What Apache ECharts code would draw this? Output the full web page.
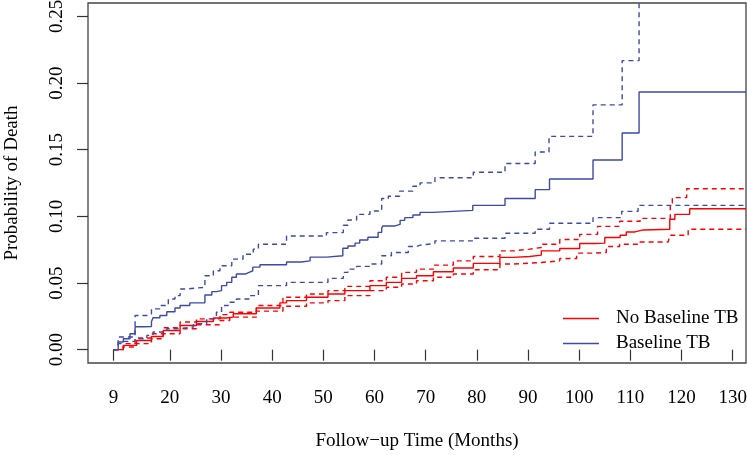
<!DOCTYPE html>
<html>
<head>
<meta charset="utf-8">
<script src="https://cdn.jsdelivr.net/npm/echarts@6/dist/echarts.min.js"></script>
<style>html,body{margin:0;padding:0;background:#fff}#c{width:747px;height:455px}</style>
</head>
<body>
<div id="c"></div>
<script>
// Tick labels
const xTicks = [9, 20, 30, 40, 50, 60, 70, 80, 90, 100, 110, 120, 130];
const yTicks = [0, 0.05, 0.10, 0.15, 0.20, 0.25];

// No Baseline TB (red): estimate and 95% CI
const redEstT = [9, 10.9, 13.5, 16.4, 18.7, 22.0, 25.2, 28.5, 31.1, 32.4, 36.9, 41.5, 42.8, 46.7, 50.9, 54.2, 59.1, 62.3, 65.3, 68.2, 71.5, 75.4, 79.3, 84.5, 87.1, 90.3, 92.6, 96.2, 100.1, 103.0, 105.0, 108.0, 109.2, 110.9, 112.5, 117.7, 118.7, 121.6, 132.6];
const redEstY = [0, 0.0032, 0.0069, 0.0099, 0.0144, 0.0181, 0.0211, 0.0237, 0.0244, 0.0269, 0.0313, 0.0351, 0.0368, 0.0393, 0.0418, 0.0443, 0.048, 0.0505, 0.0535, 0.0554, 0.0584, 0.0612, 0.0647, 0.0692, 0.0699, 0.0709, 0.0741, 0.0759, 0.0796, 0.0799, 0.0841, 0.0858, 0.0883, 0.0898, 0.0903, 0.0978, 0.1015, 0.1057, 0.1057];
const redUpT = [9, 10.9, 13.2, 16.4, 18.7, 22.0, 25.2, 29.8, 31.7, 36.9, 42.1, 46.7, 50.9, 54.2, 59.1, 62.3, 65.3, 68.2, 71.5, 75.4, 79.3, 84.5, 87.1, 90.3, 92.6, 96.2, 100.1, 103.6, 107.9, 111.9, 117.8, 118.2, 121.0, 132.6];
const redUpY = [0, 0.0045, 0.0087, 0.0119, 0.0164, 0.0207, 0.0231, 0.0263, 0.0281, 0.0331, 0.0393, 0.0418, 0.0443, 0.0475, 0.0517, 0.0543, 0.058, 0.0604, 0.0634, 0.0666, 0.0699, 0.0741, 0.0754, 0.0766, 0.0791, 0.0826, 0.0865, 0.0925, 0.0963, 0.0985, 0.110, 0.114, 0.1207, 0.1207];
const redLoT = [9, 10.9, 13.2, 16.4, 18.7, 22.0, 25.2, 29.8, 31.7, 36.9, 42.1, 46.7, 50.9, 54.2, 59.1, 62.3, 65.3, 68.2, 71.5, 75.4, 79.3, 84.5, 87.1, 90.3, 92.6, 96.2, 99.5, 103.0, 105.3, 107.9, 111.8, 117.4, 117.7, 121.3, 132.6];
const redLoY = [0, 0.002, 0.0045, 0.0082, 0.0119, 0.0157, 0.0187, 0.0219, 0.0244, 0.0289, 0.0326, 0.0351, 0.0368, 0.0405, 0.0443, 0.0468, 0.0493, 0.0517, 0.0543, 0.0567, 0.0599, 0.0642, 0.0649, 0.0654, 0.0666, 0.0684, 0.0724, 0.0729, 0.0774, 0.0791, 0.0808, 0.0823, 0.0858, 0.0903, 0.0903];

// Baseline TB (blue): estimate and 95% CI
const blueEstT = [9, 9.9, 10.9, 12.2, 13.2, 14.8, 16.4, 16.7, 18.05, 19.4, 21.0, 22.0, 23.9, 26.85, 28.2, 29.1, 30.1, 31.1, 32.1, 33.0, 34.7, 35.6, 36.2, 37.6, 42.8, 45.7, 47.4, 50.6, 53.8, 54.8, 56.2, 57.1, 58.7, 60.7, 61.4, 61.6, 64.0, 65.0, 65.9, 67.5, 68.9, 71.4, 79.2, 85.5, 91.4, 94.2, 102.7, 108.4, 111.7, 132.6];
const blueEstY = [0, 0.0057, 0.0082, 0.0119, 0.0172, 0.0174, 0.0209, 0.0239, 0.0256, 0.0284, 0.0313, 0.0331, 0.0351, 0.041, 0.0435, 0.0443, 0.048, 0.0505, 0.0543, 0.0567, 0.0582, 0.0592, 0.0619, 0.0637, 0.0657, 0.0666, 0.0694, 0.0704, 0.0761, 0.0778, 0.0799, 0.0823, 0.0843, 0.088, 0.091, 0.0928, 0.094, 0.097, 0.099, 0.101, 0.103, 0.1045, 0.1082, 0.1134, 0.120, 0.128, 0.1423, 0.1625, 0.1933, 0.1933];
const blueUpT = [9, 9.9, 13.2, 15.8, 16.4, 18.05, 19.7, 21.0, 22.0, 23.3, 26.85, 28.5, 29.8, 32.1, 34.3, 36.3, 37.3, 42.8, 50.6, 53.9, 54.8, 56.5, 59.1, 61.4, 62.7, 64.9, 67.5, 68.9, 71.8, 79.3, 85.5, 91.4, 94.1, 102.7, 108.4, 111.7, 132.6];
const blueUpY = [0, 0.0095, 0.0256, 0.0269, 0.0306, 0.0331, 0.038, 0.0405, 0.0455, 0.0468, 0.0554, 0.0592, 0.0629, 0.0679, 0.0716, 0.0754, 0.0791, 0.0853, 0.0878, 0.0933, 0.0972, 0.1015, 0.104, 0.1134, 0.1151, 0.1189, 0.1226, 0.1251, 0.1289, 0.1331, 0.1396, 0.1483, 0.160, 0.1836, 0.2168, 0.30, 0.30];
const blueLoT = [9, 9.9, 10.9, 13.2, 15.5, 16.7, 19.4, 21.3, 24.6, 27.2, 29.1, 30.1, 31.4, 33.0, 35.6, 37.3, 42.8, 50.9, 53.9, 54.8, 56.5, 59.1, 61.4, 63.3, 66.6, 68.2, 68.9, 71.8, 79.3, 85.5, 91.4, 94.2, 102.7, 108.3, 111.5, 132.6];
const blueLoY = [0, 0.0045, 0.0062, 0.0082, 0.0107, 0.0132, 0.0157, 0.0169, 0.0194, 0.0231, 0.0281, 0.0331, 0.0356, 0.038, 0.0405, 0.048, 0.0505, 0.0535, 0.058, 0.0604, 0.0625, 0.0642, 0.0704, 0.0729, 0.0774, 0.0784, 0.0796, 0.0816, 0.0836, 0.0873, 0.0903, 0.0948, 0.099, 0.1037, 0.1082, 0.1082];

const RED = '#ff0000';
const BLUE = '#3d4aa8';
const FONT = 'Liberation Serif';

function pairs(t, y) { return t.map((v, i) => [v, y[i]]); }
function line(name, t, y, color, dashed) {
  return {
    name: name, type: 'line', step: 'end', showSymbol: false, symbol: 'none',
    data: pairs(t, y), silent: true, animation: false, clip: true,
    lineStyle: { color: color, width: 1.4, type: dashed ? [5, 4] : 'solid' },
    itemStyle: { color: color }
  };
}

const chart = echarts.init(document.getElementById('c'), null, { renderer: 'canvas' });
chart.setOption({
  animation: false,
  backgroundColor: '#fff',
  textStyle: { fontFamily: FONT },
  grid: { left: 88, right: 1, top: 3, bottom: 92, containLabel: false, outerBoundsMode: 'none',
    show: true, borderColor: '#444', borderWidth: 1.3, backgroundColor: 'transparent' },
  xAxis: {
    type: 'value', min: 4, max: 132.6,
    name: 'Follow\u2212up Time (Months)', nameLocation: 'middle', nameGap: 69,
    nameTextStyle: { fontFamily: FONT, fontSize: 19, color: '#000' },
    axisLine: { show: false },
    axisTick: { show: true, length: 11, customValues: xTicks, lineStyle: { color: '#333', width: 1.2 } },
    axisLabel: { customValues: xTicks, margin: 26, fontFamily: FONT, fontSize: 19, color: '#000' },
    splitLine: { show: false }
  },
  yAxis: {
    type: 'value', min: -0.01, max: 0.26,
    name: 'Probability of Death', nameLocation: 'middle', nameGap: 66,
    nameTextStyle: { fontFamily: FONT, fontSize: 19, color: '#000' },
    axisLine: { show: false },
    axisTick: { show: true, length: 11, customValues: yTicks, lineStyle: { color: '#333', width: 1.2 } },
    axisLabel: { customValues: yTicks, rotate: 90, margin: 21, fontFamily: FONT, fontSize: 19, color: '#000',
      formatter: v => v.toFixed(2) },
    splitLine: { show: false }
  },
  legend: {
    data: ['No Baseline TB', 'Baseline TB'],
    orient: 'vertical', left: 563, top: 309, padding: 0,
    icon: 'rect', itemWidth: 36, itemHeight: 1.5, itemGap: 6,
    textStyle: { fontFamily: FONT, fontSize: 19, color: '#000', padding: [0, 0, 0, 12], lineHeight: 19 },
    selectedMode: false
  },
  series: [
    line('No Baseline TB', redEstT, redEstY, RED, false),
    line('No Baseline TB upper', redUpT, redUpY, RED, true),
    line('No Baseline TB lower', redLoT, redLoY, RED, true),
    line('Baseline TB', blueEstT, blueEstY, BLUE, false),
    line('Baseline TB upper', blueUpT, blueUpY, BLUE, true),
    line('Baseline TB lower', blueLoT, blueLoY, BLUE, true)
  ]
});
</script>
</body>
</html>
